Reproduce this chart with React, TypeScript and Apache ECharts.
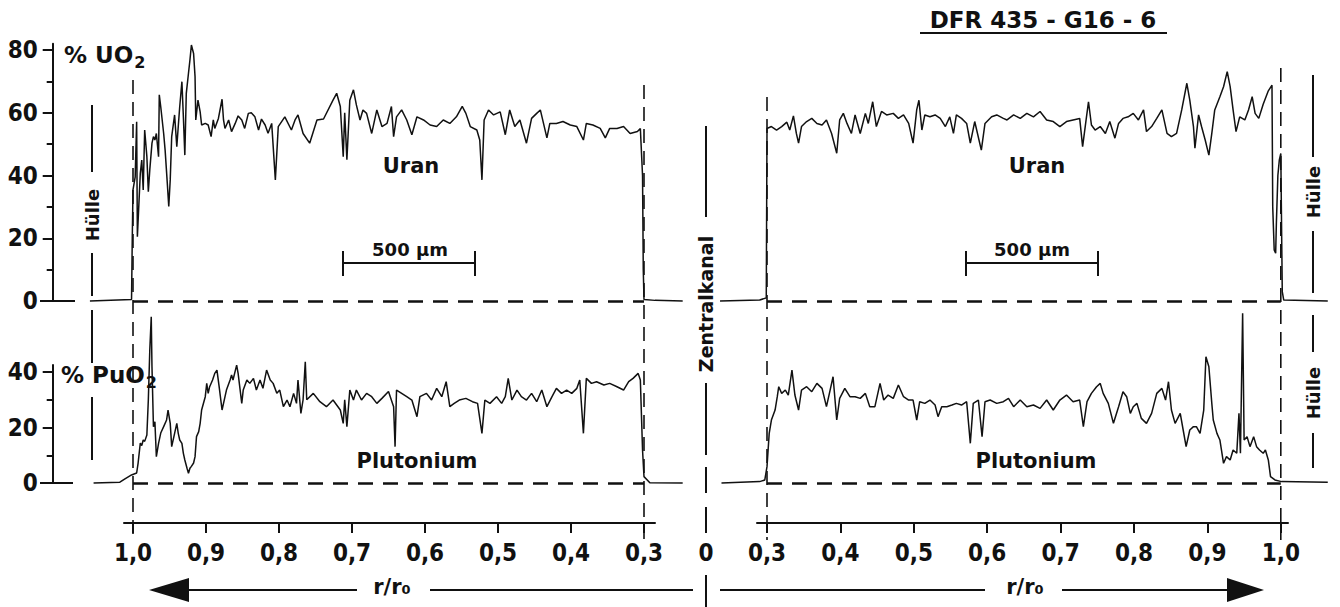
import React, { useEffect, useRef } from 'react';
import * as echarts from 'echarts';

// ---------- data: [r/r0, %] ----------
const uranLeft: [number, number][] = [
  [1.059, 0], [1.002, 0.5], [1.001, 20], [1.0, 35.4], [0.997, 39.6], [0.995, 57.1], [0.994, 20.5], [0.99, 40.7],
  [0.988, 44.9], [0.986, 35.4], [0.984, 54.5], [0.981, 46], [0.979, 34.8], [0.977, 41.8], [0.974, 50.3], [0.972, 52.4],
  [0.97, 51.3], [0.968, 53.4], [0.965, 46], [0.964, 65.7], [0.962, 61.9], [0.958, 53.4], [0.956, 48.1], [0.953, 37.5],
  [0.951, 30.1], [0.949, 38.6], [0.947, 52.4], [0.943, 59.3], [0.94, 49.2], [0.938, 55.6], [0.936, 61.9], [0.933, 69.9],
  [0.931, 58.7], [0.929, 46.5], [0.927, 66.2], [0.924, 72.6], [0.922, 76.8], [0.92, 81.6], [0.917, 78.9], [0.915, 71.5],
  [0.914, 57.7], [0.911, 64], [0.908, 60.3], [0.906, 56.1], [0.901, 56.6], [0.897, 56.1], [0.893, 52.4], [0.89, 57.7],
  [0.888, 55], [0.883, 58.2], [0.878, 64.3], [0.876, 57.7], [0.874, 55], [0.869, 57.7], [0.865, 54], [0.86, 56.6],
  [0.856, 59], [0.851, 57.7], [0.847, 55], [0.842, 59.8], [0.838, 60], [0.833, 58.7], [0.828, 54.5], [0.824, 58],
  [0.819, 56.1], [0.815, 53.5], [0.81, 56.6], [0.805, 38.6], [0.801, 55.6], [0.792, 58.7], [0.783, 54.5], [0.778, 57.7],
  [0.774, 59.3], [0.767, 53.4], [0.758, 50.3], [0.748, 57.7], [0.739, 58], [0.726, 64], [0.721, 66.2], [0.716, 62],
  [0.712, 46], [0.71, 60], [0.707, 45], [0.703, 64], [0.698, 67.3], [0.694, 62.5], [0.689, 57.7], [0.685, 60.9],
  [0.68, 59.8], [0.673, 53.4], [0.666, 60.9], [0.659, 55.6], [0.652, 56.6], [0.646, 62], [0.643, 52.4], [0.639, 58.7],
  [0.632, 60.9], [0.625, 57.7], [0.618, 53], [0.611, 58.7], [0.602, 57.7], [0.593, 56.1], [0.584, 55.6], [0.575, 57.7],
  [0.566, 56.6], [0.557, 58.7], [0.549, 62], [0.544, 59.8], [0.538, 55.6], [0.529, 54.5], [0.525, 51.3], [0.522, 38.6],
  [0.519, 57.7], [0.513, 60.9], [0.506, 59.3], [0.497, 60.3], [0.49, 53], [0.484, 60.9], [0.477, 55.6], [0.47, 57.7],
  [0.461, 50.3], [0.454, 58.2], [0.447, 59.8], [0.442, 60.9], [0.433, 52], [0.429, 56.6], [0.42, 56.6], [0.411, 57.2],
  [0.401, 56.1], [0.392, 55.6], [0.383, 51.3], [0.379, 56.6], [0.37, 56.1], [0.36, 55], [0.353, 52], [0.347, 55],
  [0.337, 55], [0.328, 55.6], [0.319, 53.4], [0.309, 54], [0.305, 55], [0.302, 40], [0.301, 10], [0.3, 0.5],
  [0.285, 0.2], [0.247, 0],
];

const plutLeft: [number, number][] = [
  [1.054, 0], [1.018, 0.3], [1.011, 1.5], [1.002, 2.9], [0.995, 3.6], [0.993, 7.2], [0.99, 14.4], [0.988, 13.5],
  [0.986, 15.5], [0.984, 15], [0.981, 17.3], [0.979, 29.9], [0.977, 47.9], [0.975, 59.9], [0.974, 41.9], [0.972, 20.3],
  [0.97, 22.1], [0.968, 9.5], [0.965, 14.3], [0.962, 18], [0.958, 20.3], [0.954, 22.7], [0.952, 26.3], [0.949, 21.5],
  [0.947, 13.1], [0.943, 17.9], [0.94, 21.5], [0.938, 17.9], [0.936, 15.5], [0.933, 14.3], [0.931, 10.7], [0.929, 8.3],
  [0.926, 5.3], [0.924, 3.5], [0.922, 5.3], [0.92, 6], [0.917, 7.2], [0.915, 9.5], [0.913, 16.7], [0.91, 18.5],
  [0.908, 21.5], [0.906, 26.3], [0.901, 31.1], [0.899, 35.9], [0.897, 32.3], [0.895, 34.7], [0.891, 37.1], [0.888, 39.5],
  [0.885, 40.7], [0.882, 34.7], [0.878, 26.3], [0.876, 28.7], [0.872, 33.5], [0.867, 37.1], [0.865, 38.9], [0.863, 37.1],
  [0.858, 42.5], [0.856, 39.5], [0.851, 28.7], [0.849, 33.5], [0.844, 37.1], [0.84, 35.9], [0.835, 37.7], [0.831, 33.5],
  [0.826, 37.1], [0.822, 34.1], [0.817, 40.7], [0.812, 37.1], [0.808, 35.9], [0.803, 32.3], [0.799, 33.5], [0.794, 27.5],
  [0.789, 29.9], [0.785, 27.5], [0.78, 32.3], [0.776, 28.7], [0.774, 37.1], [0.77, 25.1], [0.767, 30], [0.764, 43.7],
  [0.762, 30], [0.753, 32.3], [0.744, 29.3], [0.735, 27.5], [0.726, 29.9], [0.716, 26.3], [0.712, 21.5], [0.71, 30],
  [0.707, 20.3], [0.703, 33.5], [0.698, 29.9], [0.694, 33.5], [0.687, 29.9], [0.68, 32.3], [0.673, 31.1], [0.666, 28.7],
  [0.659, 30.5], [0.65, 33], [0.643, 27.5], [0.641, 13.1], [0.639, 33.5], [0.632, 32.3], [0.625, 31.1], [0.618, 29.9],
  [0.611, 23.9], [0.607, 31.1], [0.598, 32.3], [0.591, 29.9], [0.584, 34.1], [0.577, 31.1], [0.571, 36.5], [0.566, 27.5],
  [0.56, 28.7], [0.553, 29.9], [0.544, 30.5], [0.535, 29.3], [0.528, 28.7], [0.522, 17.9], [0.518, 29.9], [0.511, 28.7],
  [0.502, 31.1], [0.495, 28.7], [0.49, 31.1], [0.486, 37.7], [0.481, 29.9], [0.474, 33.5], [0.468, 31.1], [0.461, 29.9],
  [0.454, 32.3], [0.447, 29.3], [0.44, 33.5], [0.433, 27.5], [0.426, 31.1], [0.42, 34.1], [0.413, 32.3], [0.406, 33.5],
  [0.399, 32.3], [0.392, 34.1], [0.388, 37.1], [0.383, 17.9], [0.379, 37.7], [0.372, 35.9], [0.365, 36.5], [0.355, 35.3],
  [0.347, 35.9], [0.337, 34.7], [0.328, 33.5], [0.321, 36.5], [0.315, 37.7], [0.308, 39.5], [0.305, 37.1], [0.302, 11.9],
  [0.3, 2.3], [0.292, 0.1], [0.247, 0],
];

const uranRight: [number, number][] = [
  [0.236, 0], [0.29, 0.3], [0.299, 1], [0.3, 55], [0.306, 55.6], [0.313, 54.5], [0.32, 55.6], [0.327, 57],
  [0.331, 54.5], [0.336, 59], [0.34, 53.4], [0.343, 50.3], [0.347, 55.6], [0.354, 57.2], [0.361, 58.2], [0.368, 56.6],
  [0.375, 56.1], [0.381, 57.7], [0.388, 53.4], [0.395, 47.1], [0.399, 57.7], [0.404, 59.8], [0.409, 56.6], [0.415, 53.4],
  [0.42, 59.3], [0.427, 53.4], [0.434, 59.8], [0.438, 56.6], [0.444, 63.5], [0.449, 55.6], [0.456, 60.4], [0.463, 59.3],
  [0.472, 59.8], [0.479, 58.2], [0.486, 59.3], [0.493, 56.6], [0.499, 50.3], [0.504, 61], [0.507, 64], [0.511, 54.5],
  [0.515, 59.3], [0.522, 58.7], [0.529, 59.3], [0.536, 58.2], [0.543, 55.6], [0.549, 58.7], [0.554, 53.4], [0.558, 59.3],
  [0.565, 58.2], [0.572, 56.6], [0.577, 50.3], [0.583, 57.2], [0.592, 48.1], [0.597, 56.6], [0.606, 58.7], [0.613, 59.3],
  [0.622, 58.2], [0.627, 57.7], [0.636, 59.3], [0.645, 58.2], [0.654, 59.8], [0.663, 58.7], [0.672, 60.4], [0.681, 57.7],
  [0.69, 57.2], [0.699, 55.6], [0.708, 57.2], [0.717, 57.7], [0.726, 58.2], [0.73, 49.2], [0.735, 58.2], [0.738, 63.5],
  [0.742, 56.1], [0.747, 54.5], [0.754, 55.6], [0.761, 53.4], [0.767, 57.2], [0.774, 51.9], [0.779, 56.6], [0.785, 58.2],
  [0.792, 58.7], [0.799, 59.8], [0.806, 57.7], [0.813, 60.9], [0.817, 54], [0.824, 55.6], [0.831, 58.2], [0.838, 60.9],
  [0.845, 53.4], [0.851, 52.4], [0.858, 53.4], [0.865, 60.9], [0.872, 69.4], [0.876, 64], [0.881, 55.6], [0.883, 48.7],
  [0.888, 59.3], [0.892, 55.6], [0.897, 51.3], [0.902, 46.5], [0.906, 53.4], [0.91, 60.9], [0.917, 65.1], [0.922, 68.3],
  [0.927, 73.1], [0.931, 68.3], [0.935, 60.9], [0.939, 54], [0.944, 58.7], [0.951, 57.7], [0.956, 60.9], [0.961, 65.1],
  [0.965, 59.8], [0.97, 58.2], [0.976, 62.7], [0.983, 67], [0.988, 68.8], [0.989, 30], [0.991, 16.3], [0.993, 15.2],
  [0.994, 25], [0.996, 40], [0.998, 45], [1.0, 47], [1.002, 3], [1.004, 0.3], [1.064, 0],
];

const plutRight: [number, number][] = [
  [0.238, 0], [0.29, 0.5], [0.297, 1.1], [0.3, 5.9], [0.303, 17.9], [0.306, 22.7], [0.311, 26.3], [0.314, 31.1],
  [0.316, 34.7], [0.32, 32.3], [0.325, 33.5], [0.329, 31.7], [0.334, 40.7], [0.338, 31.7], [0.343, 26.3], [0.347, 33.5],
  [0.354, 34.7], [0.361, 32.9], [0.368, 35.9], [0.375, 34.1], [0.381, 27.5], [0.386, 33.5], [0.39, 38.3], [0.395, 22.7],
  [0.399, 30.5], [0.406, 34.1], [0.413, 31.1], [0.42, 31.1], [0.427, 30.5], [0.434, 32.3], [0.44, 27.5], [0.447, 27.5],
  [0.454, 35.9], [0.459, 29.9], [0.465, 31.7], [0.472, 30.5], [0.479, 35.3], [0.486, 31.1], [0.493, 29.9], [0.499, 29.9],
  [0.504, 22.7], [0.508, 29.3], [0.515, 28.7], [0.522, 29.9], [0.529, 28.1], [0.533, 23.9], [0.538, 27.5], [0.545, 27.5],
  [0.552, 28.1], [0.558, 28.7], [0.565, 28.1], [0.572, 29.3], [0.577, 14.3], [0.581, 28.7], [0.588, 29.9], [0.593, 16.7],
  [0.597, 29.3], [0.604, 29.9], [0.613, 28.7], [0.622, 29.3], [0.629, 30.5], [0.636, 27.5], [0.645, 29.9], [0.654, 27.5],
  [0.663, 28.1], [0.672, 26.9], [0.681, 29.9], [0.69, 26.3], [0.699, 29.9], [0.708, 31.7], [0.717, 29.3], [0.726, 29.9],
  [0.731, 20.3], [0.736, 29.3], [0.742, 32.3], [0.749, 34.7], [0.754, 35.9], [0.758, 32.3], [0.765, 28.7], [0.772, 21.5],
  [0.779, 27.5], [0.785, 32.9], [0.79, 31.1], [0.795, 25.1], [0.799, 27.5], [0.804, 28.7], [0.81, 23.3], [0.817, 21.5],
  [0.824, 25.1], [0.831, 32.3], [0.838, 34.1], [0.843, 29.9], [0.847, 36.5], [0.851, 26.3], [0.856, 21.5], [0.863, 25.1],
  [0.867, 19.1], [0.871, 13.1], [0.876, 19.1], [0.881, 20.3], [0.885, 20.3], [0.89, 17.9], [0.895, 26.3], [0.898, 45.5],
  [0.902, 41.9], [0.906, 28.7], [0.908, 22.7], [0.913, 17.9], [0.917, 15.5], [0.922, 7.1], [0.926, 9.5], [0.931, 8.3],
  [0.935, 11.9], [0.94, 10.7], [0.943, 25.1], [0.945, 10.7], [0.948, 61.2], [0.95, 15.5], [0.954, 16.7], [0.958, 13.1],
  [0.963, 16.7], [0.967, 13.1], [0.971, 11.9], [0.976, 10.7], [0.979, 11.9], [0.983, 8.3], [0.986, 2.3], [0.992, 1.1],
  [1.001, 0.5], [1.064, 0.3],
];

const upperMajorTicks = [0, 20, 40, 60, 80];
const upperMinorTicks = [10, 30, 50, 70];
const lowerMajorTicks = [0, 20, 40];
const lowerMinorTicks = [10, 30];
const rTicks = [0.3, 0.4, 0.5, 0.6, 0.7, 0.8, 0.9, 1.0];

// ---------- layout ----------
const NUM_FONT = '"Liberation Sans Narrow", "DejaVu Sans Condensed", "Liberation Sans", sans-serif';
const TXT_FONT = '"DejaVu Sans", "Liberation Sans", sans-serif';
const INK = '#111';

const L_X1 = 133, L_K = 730; // left panel: pixel at r=1.0, pixels per unit r
const R_X03 = 767, R_K = 734; // right panel: pixel at r=0.3
const xl = (r: number) => L_X1 + (1 - r) * L_K;
const xr = (r: number) => R_X03 + (r - 0.3) * R_K;
const U_ZERO = 301, U_K = 3.1375, U_MAX = 82;
const P_ZERO = 483, P_K = 2.775, P_MAX = 42.5;
const AXIS_Y = 523;

const L_RANGE = [0.24, 1.11];
const R_RANGE = [0.23, 1.07];
const LA_RANGE = [0.2849, 1.0123];
const RA_RANGE = [0.2864, 1.0098];

function buildOption() {
  const gridL = (top: number, h: number) => ({ left: xl(L_RANGE[1]), width: (L_RANGE[1] - L_RANGE[0]) * L_K, top, height: h, outerBoundsMode: 'none' });
  const gridR = (top: number, h: number) => ({ left: xr(R_RANGE[0]), width: (R_RANGE[1] - R_RANGE[0]) * R_K, top, height: h, outerBoundsMode: 'none' });
  const upperTop = U_ZERO - U_MAX * U_K, upperH = U_MAX * U_K;
  const lowerTop = P_ZERO - P_MAX * P_K, lowerH = P_MAX * P_K;

  const hiddenX = (gi: number, range: number[], inverse: boolean) => ({ gridIndex: gi, type: 'value', min: range[0], max: range[1], inverse, show: false });
  const bottomX = (gi: number, range: number[], inverse: boolean) => ({
    gridIndex: gi, type: 'value', min: range[0], max: range[1], inverse, position: 'bottom',
    axisLine: { show: true, onZero: false, lineStyle: { color: INK, width: 2 } },
    axisTick: { show: true, customValues: rTicks, length: 10, lineStyle: { color: INK, width: 2 } },
    axisLabel: {
      show: true, customValues: rTicks, margin: 18, color: INK, fontFamily: NUM_FONT, fontWeight: 'bold', fontSize: 24,
      formatter: (v: number) => v.toFixed(1).replace('.', ','),
    },
    splitLine: { show: false },
  });
  const majorY = (gi: number, max: number, ticks: number[]) => ({
    gridIndex: gi, type: 'value', min: 0, max, position: 'left',
    axisLine: { show: true, onZero: false, lineStyle: { color: INK, width: 2 } },
    axisTick: { show: true, customValues: ticks, length: 10, lineStyle: { color: INK, width: 2 } },
    axisLabel: { show: true, customValues: ticks, margin: 15, color: INK, fontFamily: NUM_FONT, fontWeight: 'bold', fontSize: 24 },
    splitLine: { show: false },
  });
  const minorY = (gi: number, max: number, ticks: number[]) => ({
    gridIndex: gi, type: 'value', min: 0, max, position: 'left',
    axisLine: { show: false, onZero: false },
    axisTick: { show: true, customValues: ticks, length: 6, lineStyle: { color: INK, width: 2 } },
    axisLabel: { show: false },
    splitLine: { show: false },
  });
  const hiddenY = (gi: number, max: number) => ({ gridIndex: gi, type: 'value', min: 0, max, show: false });

  const trace = (xi: number, yi: number, data: [number, number][], dashFrom: number, dashTo: number) => ({
    type: 'line', xAxisIndex: xi, yAxisIndex: yi, data, symbol: 'none', showSymbol: false, clip: false, silent: true,
    lineStyle: { color: INK, width: 1.5 }, z: 3,
    markLine: {
      silent: true, symbol: ['none', 'none'], label: { show: false }, animation: false,
      lineStyle: { color: INK, width: 2.6, type: [15, 10] },
      data: [[{ coord: [dashFrom, 0] }, { coord: [dashTo, 0] }]],
    },
  });

  const line = (x1: number, y1: number, x2: number, y2: number, w = 2, dash?: number[]) => ({
    type: 'line', silent: true, shape: { x1, y1, x2, y2 }, style: { stroke: INK, lineWidth: w, lineDash: dash },
  });
  const text = (t: string, x: number, y: number, size: number, opts: any = {}) => ({
    type: 'text', silent: true, x, y, rotation: opts.rot || 0,
    style: {
      text: t, fill: INK, font: `${opts.weight || 'bold'} ${size}px ${opts.family || TXT_FONT}`,
      textAlign: opts.align || 'center', align: opts.align || 'center',
      textVerticalAlign: 'middle', verticalAlign: 'middle',
    },
  });
  const sub = (main: string, x: number, y: number) => ({
    type: 'text', silent: true, x, y,
    style: {
      text: `{a|${main}}{b|2}`, align: 'left', textAlign: 'left', verticalAlign: 'middle', textVerticalAlign: 'middle',
      rich: {
        a: { font: `bold 23px ${TXT_FONT}`, fill: INK, color: INK },
        b: { font: `bold 16px ${TXT_FONT}`, fill: INK, color: INK, padding: [14, 0, 0, 1] },
      },
    },
  });
  const ROT = Math.PI / 2;
  const dashV = [14, 8];

  const graphic = [
    // vertical dashed boundaries
    line(xl(1.0), 80, xl(1.0), 540, 1.6, dashV),
    line(xl(0.3), 85, xl(0.3), 540, 1.6, dashV),
    line(xr(0.3), 97, xr(0.3), 540, 1.6, dashV),
    line(xr(1.0), 68, xr(1.0), 540, 1.6, dashV),
    // zero stubs at y axis
    line(40, U_ZERO, 75, U_ZERO, 2),
    line(40, P_ZERO, 73, P_ZERO, 2),
    // left Hülle
    line(92, 105, 92, 172, 2), text('Hülle', 92, 215, 18, { rot: ROT }), line(92, 253, 92, 296, 2),
    line(92, 310, 92, 363, 2), line(92, 397, 92, 460, 2),
    // right Hülle
    line(1313, 75, 1313, 157, 2), text('Hülle', 1313, 192, 18, { rot: ROT }), line(1313, 231, 1313, 293, 2),
    line(1313, 315, 1313, 352, 2), text('Hülle', 1313, 393, 18, { rot: ROT }), line(1313, 433, 1313, 468, 2),
    // Zentralkanal
    line(706, 126, 706, 217, 2), text('Zentralkanal', 706, 304, 19, { rot: ROT }),
    line(706, 383, 706, 455, 2), line(706, 467, 706, 493, 2), line(706, 507, 706, 533, 2),
    text('0', 706, 553, 24, { family: NUM_FONT }), line(706, 575, 706, 607, 2),
    // axis titles
    sub('% UO', 64, 55),
    sub('% PuO', 61, 375),
    // trace names
    text('Uran', 411, 166, 21), text('Uran', 1037, 166, 21),
    text('Plutonium', 417, 461, 21), text('Plutonium', 1036, 461, 21),
    // scale bars
    line(343, 263, 475, 263, 2), line(343, 251, 343, 276, 2), line(475, 251, 475, 276, 2), text('500 µm', 410, 249, 18),
    line(966, 263, 1098, 263, 2), line(966, 251, 966, 276, 2), line(1098, 251, 1098, 276, 2), text('500 µm', 1032, 249, 18),
    // title
    text('DFR 435 - G16 - 6', 1043, 20, 23), line(920, 33, 1167, 33, 2),
    // arrows
    { type: 'polygon', silent: true, shape: { points: [[189, 578], [149, 590], [189, 602]] }, style: { fill: INK } },
    line(189, 590, 357, 590, 2), text('r/r₀', 392, 587, 21), line(430, 590, 693, 590, 2),
    line(720, 590, 985, 590, 2), text('r/r₀', 1025, 587, 21), line(1062, 590, 1227, 590, 2),
    { type: 'polygon', silent: true, shape: { points: [[1227, 578], [1264, 590], [1227, 602]] }, style: { fill: INK } },
  ];

  return {
    animation: false,
    backgroundColor: '#fff',
    grid: [
      gridL(upperTop, upperH), gridL(lowerTop, lowerH),
      gridR(upperTop, upperH), gridR(lowerTop, lowerH),
      { left: xl(LA_RANGE[1]), width: (LA_RANGE[1] - LA_RANGE[0]) * L_K, top: AXIS_Y - 1, height: 1, outerBoundsMode: 'none' },
      { left: xr(RA_RANGE[0]), width: (RA_RANGE[1] - RA_RANGE[0]) * R_K, top: AXIS_Y - 1, height: 1, outerBoundsMode: 'none' },
    ],
    xAxis: [
      hiddenX(0, L_RANGE, true), hiddenX(1, L_RANGE, true),
      hiddenX(2, R_RANGE, false), hiddenX(3, R_RANGE, false),
      bottomX(4, LA_RANGE, true), bottomX(5, RA_RANGE, false),
    ],
    yAxis: [
      majorY(0, U_MAX, upperMajorTicks), minorY(0, U_MAX, upperMinorTicks),
      majorY(1, P_MAX, lowerMajorTicks), minorY(1, P_MAX, lowerMinorTicks),
      hiddenY(2, U_MAX), hiddenY(3, P_MAX), hiddenY(4, 1), hiddenY(5, 1),
    ],
    series: [
      trace(0, 0, uranLeft, 1.0, 0.3),
      trace(1, 2, plutLeft, 1.0, 0.3),
      trace(2, 4, uranRight, 0.3, 1.0),
      trace(3, 5, plutRight, 0.3, 1.0),
    ],
    graphic,
  };
}

export default function App() {
  const ref = useRef<HTMLDivElement>(null);
  useEffect(() => {
    if (!ref.current) return;
    const chart = echarts.init(ref.current, undefined, { renderer: 'svg' });
    chart.setOption(buildOption() as any);
    return () => chart.dispose();
  }, []);
  return (
    <div
      ref={ref}
      style={{ position: 'fixed', left: 0, top: 0, width: 1340, height: 607, background: '#fff' }}
    />
  );
}
